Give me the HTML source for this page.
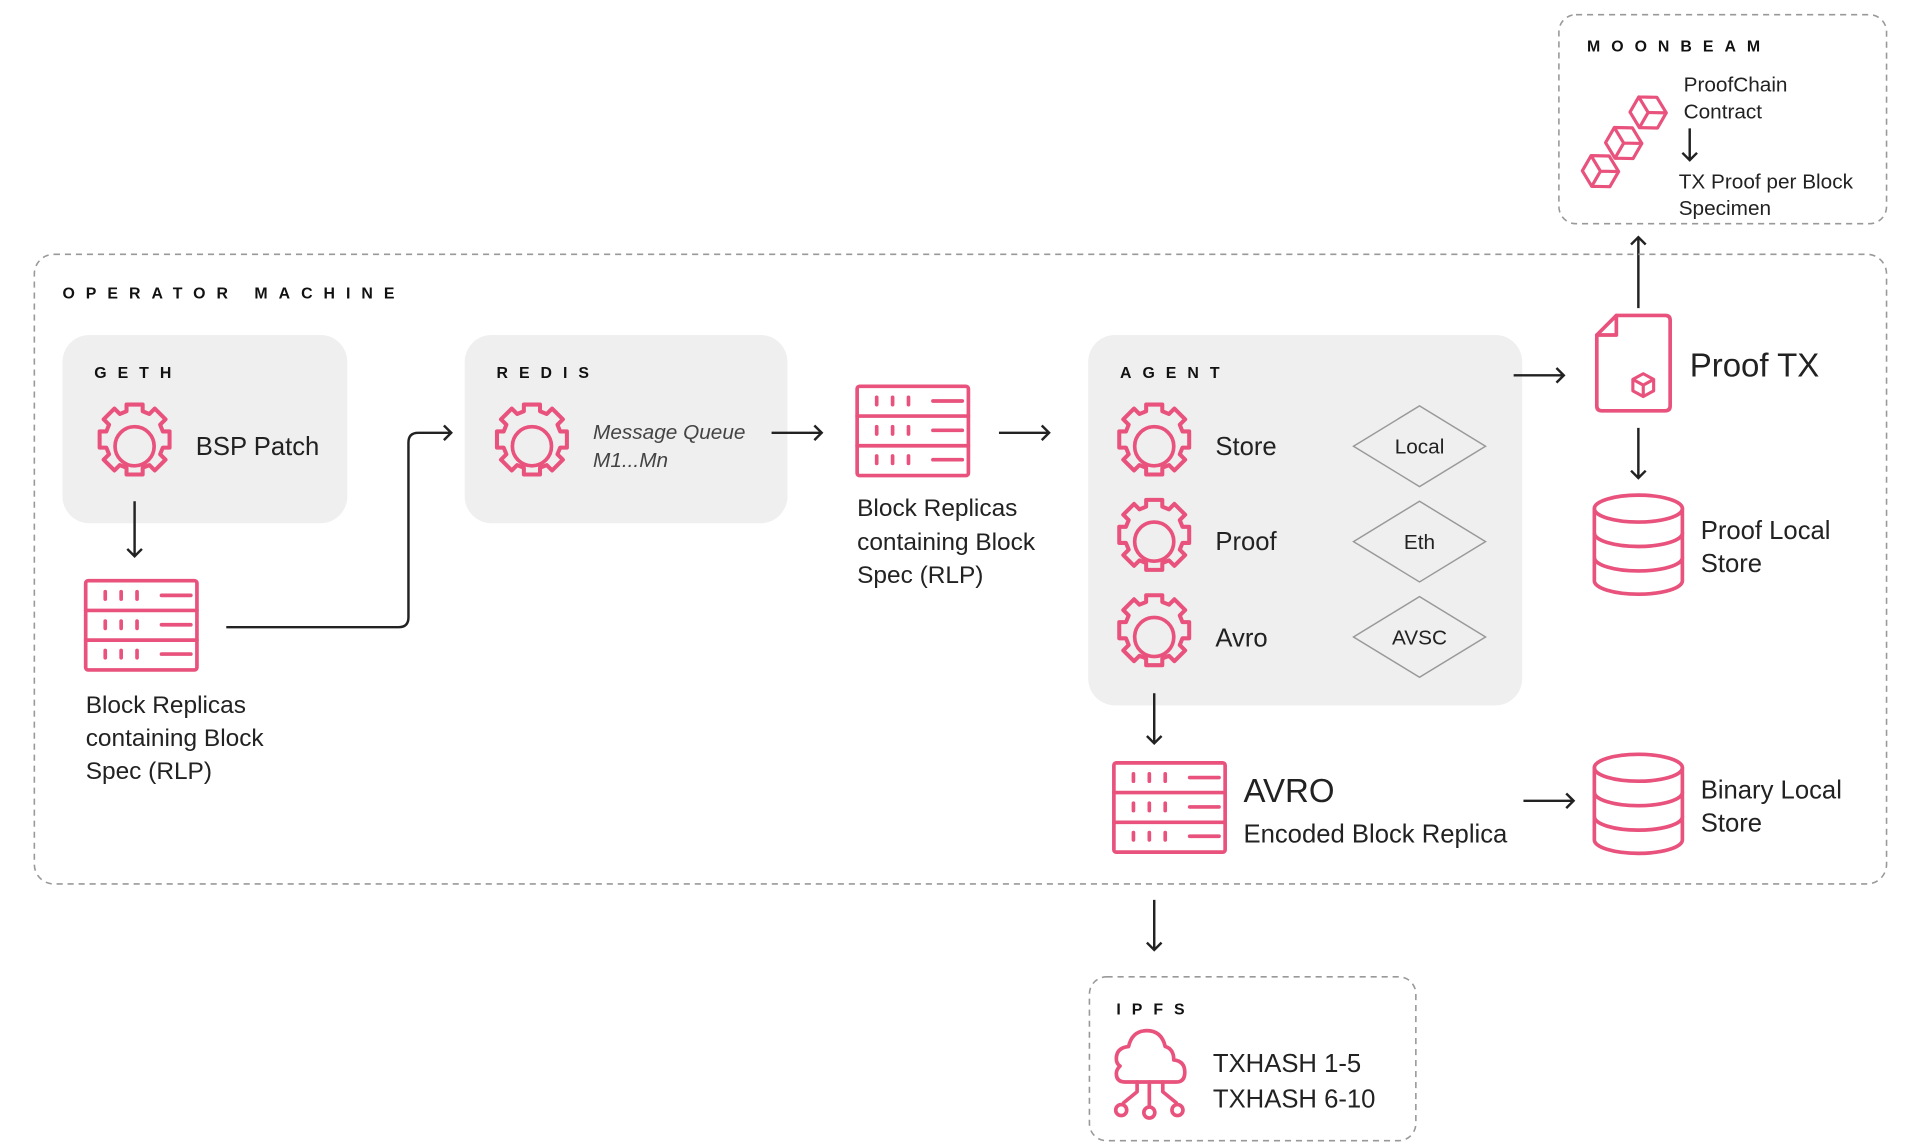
<!DOCTYPE html>
<html><head><meta charset="utf-8"><style>
html,body{margin:0;padding:0;background:#fff;}
svg{display:block;}
text{font-family:"Liberation Sans",sans-serif;fill:#222;}
.lbl{font-weight:bold;font-size:13px;letter-spacing:9px;fill:#111;}
.p{stroke:#e8527c;stroke-width:3;fill:none;stroke-linecap:round;stroke-linejoin:round;}
.a{stroke:#222;stroke-width:2;fill:none;}
.dash{fill:none;stroke:#999;stroke-width:1.3;stroke-dasharray:5 4;}
</style></head><body>
<svg width="1916" height="1148" viewBox="0 0 1567 939" xmlns="http://www.w3.org/2000/svg">
<defs>
<g id="gearfull">
  <path class="p" stroke-width="2.7" fill="#efefef" transform="scale(1.1)" d="M-6,-31 h12 v5 l5,2 4,-4 8,8 -4,4 2,5 h5 v12 h-5 l-2,5 4,4 -8,8 -4,-4 -5,2 v5 h-12 v-5 l-5,-2 -4,4 -8,-8 4,-4 -2,-5 h-5 v-12 h5 l2,-5 -4,-4 8,-8 4,4 5,-2 z"/>
  <circle r="16" class="p"/>
</g>
<g id="server">
  <rect x="0" y="0" width="91" height="73" rx="2" class="p"/>
  <line x1="0" y1="24.3" x2="91" y2="24.3" class="p"/>
  <line x1="0" y1="48.6" x2="91" y2="48.6" class="p"/>
  <g class="p">
    <path d="M16,9v6M29,9v6M42,9v6M62,12h24"/>
    <path d="M16,33v6M29,33v6M42,33v6M62,36h24"/>
    <path d="M16,57v6M29,57v6M42,57v6M62,60h24"/>
  </g>
</g>
<g id="db">
  <g class="p">
    <ellipse cx="37" cy="12" rx="36" ry="11"/>
    <path d="M1,12 V71 A36,11 0 0 0 73,71 V12"/>
    <path d="M1,32 A36,11 0 0 0 73,32"/>
    <path d="M1,52 A36,11 0 0 0 73,52"/>
  </g>
</g>
<g id="cube">
  <g class="p" stroke-width="2.6">
    <path d="M0,-11 L10,-5.5 V5.5 L0,11 L-10,5.5 V-5.5 Z M-10,-5.5 L0,0 L10,-5.5 M0,0 V11"/>
  </g>
</g>
</defs>

<!-- MOONBEAM -->
<rect x="1275" y="12" width="268" height="171" rx="14" class="dash"/>
<text x="1298" y="42" class="lbl">MOONBEAM</text>
<g class="p" stroke-width="2.6">
<g transform="translate(1348,92) rotate(30) scale(1.3)"><path stroke-width="2" d="M0,-11 L10,-5.5 V5.5 L0,11 L-10,5.5 V-5.5 Z M-10,-5.5 L0,0 L10,-5.5 M0,0 V11"/></g>
<g transform="translate(1328,117) rotate(30) scale(1.3)"><path stroke-width="2" d="M0,-11 L10,-5.5 V5.5 L0,11 L-10,5.5 V-5.5 Z M-10,-5.5 L0,0 L10,-5.5 M0,0 V11"/></g>
<g transform="translate(1309,140) rotate(30) scale(1.3)"><path stroke-width="2" d="M0,-11 L10,-5.5 V5.5 L0,11 L-10,5.5 V-5.5 Z M-10,-5.5 L0,0 L10,-5.5 M0,0 V11"/></g>
</g>
<text x="1377" y="75" font-size="17">ProofChain</text>
<text x="1377" y="97" font-size="17">Contract</text>
<path class="a" d="M1382,105V131M1376,125l6,6 6,-6"/>
<text x="1373" y="154" font-size="17">TX Proof per Block</text>
<text x="1373" y="176" font-size="17">Specimen</text>

<path class="a" d="M1340,252V194M1334,200l6,-6 6,6"/>

<!-- OPERATOR -->
<rect x="28" y="208" width="1515" height="515" rx="16" class="dash"/>
<text x="51" y="244" class="lbl">OPERATOR MACHINE</text>

<!-- GETH -->
<rect x="51" y="274" width="233" height="154" rx="22" fill="#efefef"/>
<text x="77" y="309" class="lbl">GETH</text>
<use href="#gearfull" transform="translate(110,365)"/>
<text x="160" y="372" font-size="21">BSP Patch</text>
<path class="a" d="M110,410V455M104,449l6,6 6,-6"/>
<use href="#server" transform="translate(70,475)"/>
<text x="70" y="583" font-size="20">Block Replicas</text>
<text x="70" y="610" font-size="20">containing Block</text>
<text x="70" y="637" font-size="20">Spec (RLP)</text>
<path class="a" d="M185,513H326Q334,513 334,505V362Q334,354 342,354H369M363,348l6,6 -6,6"/>

<!-- REDIS -->
<rect x="380" y="274" width="264" height="154" rx="22" fill="#efefef"/>
<text x="406" y="309" class="lbl">REDIS</text>
<use href="#gearfull" transform="translate(435,365)"/>
<text x="485" y="359" font-size="17" font-style="italic" style="fill:#444">Message Queue</text>
<text x="485" y="382" font-size="17" font-style="italic" style="fill:#444">M1...Mn</text>
<path class="a" d="M631,354H672M666,348l6,6 -6,6"/>

<use href="#server" transform="translate(701,316)"/>
<text x="701" y="422" font-size="20">Block Replicas</text>
<text x="701" y="450" font-size="20">containing Block</text>
<text x="701" y="477" font-size="20">Spec (RLP)</text>
<path class="a" d="M817,354H858M852,348l6,6 -6,6"/>

<!-- AGENT -->
<rect x="890" y="274" width="355" height="303" rx="22" fill="#efefef"/>
<text x="916" y="309" class="lbl">AGENT</text>
<use href="#gearfull" transform="translate(944,365)"/>
<use href="#gearfull" transform="translate(944,443)"/>
<use href="#gearfull" transform="translate(944,521)"/>
<text x="994" y="372" font-size="21">Store</text>
<text x="994" y="450" font-size="21">Proof</text>
<text x="994" y="529" font-size="21">Avro</text>
<g fill="none" stroke="#999" stroke-width="1.2">
<path d="M1107,365 L1161,332 L1215,365 L1161,398Z"/>
<path d="M1107,443 L1161,410 L1215,443 L1161,476Z"/>
<path d="M1107,521 L1161,488 L1215,521 L1161,554Z"/>
</g>
<text x="1161" y="371" font-size="17" text-anchor="middle">Local</text>
<text x="1161" y="449" font-size="17" text-anchor="middle">Eth</text>
<text x="1161" y="527" font-size="17" text-anchor="middle">AVSC</text>
<path class="a" d="M1238,307H1279M1273,301l6,6 -6,6"/>

<!-- Proof TX -->
<path class="p" d="M1322,258H1362Q1366,258 1366,262V332Q1366,336 1362,336H1310Q1306,336 1306,332V274L1322,258V274H1306"/>
<use href="#cube" transform="translate(1344,315) scale(0.85)"/>
<text x="1382" y="308" font-size="27">Proof TX</text>
<path class="a" d="M1340,350V391M1334,385l6,6 6,-6"/>
<use href="#db" transform="translate(1303,404)"/>
<text x="1391" y="441" font-size="21">Proof Local</text>
<text x="1391" y="468" font-size="21">Store</text>

<!-- AVRO -->
<path class="a" d="M944,567V608M938,602l6,6 6,-6"/>
<use href="#server" transform="translate(911,624)"/>
<text x="1017" y="656" font-size="27">AVRO</text>
<text x="1017" y="689" font-size="21">Encoded Block Replica</text>
<path class="a" d="M1246,655H1287M1281,649l6,6 -6,6"/>
<use href="#db" transform="translate(1303,616)"/>
<text x="1391" y="653" font-size="21">Binary Local</text>
<text x="1391" y="680" font-size="21">Store</text>

<!-- IPFS -->
<path class="a" d="M944,736V777M938,771l6,6 6,-6"/>
<rect x="891" y="799" width="267" height="134" rx="14" class="dash"/>
<text x="913" y="830" class="lbl">IPFS</text>
<g class="p" stroke-width="2.6">
<path d="M920,885H962Q969,885 969,877Q969,868 960,867Q960,858 953,856Q950,843 938,843Q926,843 923,856Q913,857 913,866Q913,870 916,872Q913,875 913,878Q913,885 920,885Z"/>
<path d="M940,885V905M930,885V893L919,902M951,885V893L962,902"/>
<circle cx="917" cy="908" r="4.5"/><circle cx="940" cy="910" r="4.5"/><circle cx="963" cy="908" r="4.5"/>
</g>
<text x="992" y="877" font-size="21">TXHASH 1-5</text>
<text x="992" y="906" font-size="21">TXHASH 6-10</text>
</svg>
</body></html>
